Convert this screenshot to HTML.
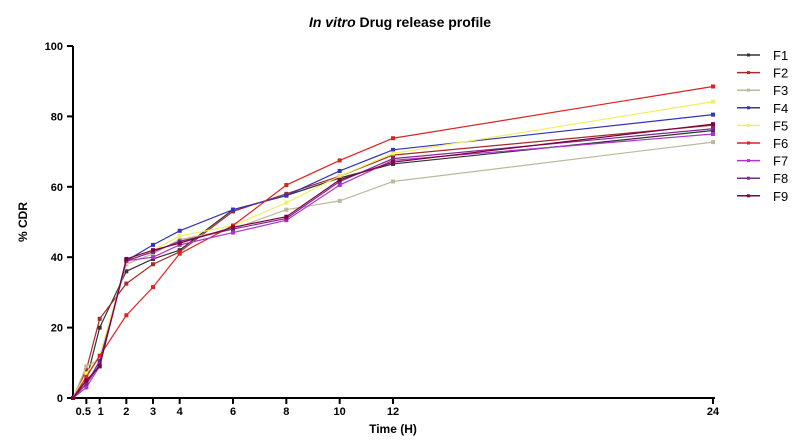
<!DOCTYPE html>
<html><head><meta charset="utf-8"><style>body{margin:0;background:#fff}svg{font-family:"Liberation Sans",Arial,sans-serif}</style></head>
<body>
<svg id="chart" width="801" height="441">
<text x="400" y="27" text-anchor="middle" font-size="14" font-weight="bold"><tspan font-style="italic">In vitro</tspan> Drug release profile</text>
<g id="axes"></g><g id="series"></g><g id="legend"></g>
</svg>
<script>
const times=[0,0.5,1,2,3,4,6,8,10,12,24];
const xTicks=[0.5,1,2,3,4,6,8,10,12,24];
const xTickLabels=["0.5","1","2","3","4","6","8","10","12","24"];
const yTicks=[0,20,40,60,80,100];
const names=["F1","F2","F3","F4","F5","F6","F7","F8","F9"];
const colors=["#333333","#a52a2a","#bdb89a","#3333bb","#f0f060","#dd2222","#b030d0","#7a2a8a","#800040"];
const F1=[0,5,20,36,39.5,42,53.5,57.5,62.5,66.5,76];
const F2=[0,8,22.5,32.5,38,41.5,53,58,63,69,77.5];
const F3=[0,9,11,38,41,45,48,53.5,56,61.5,72.7];
const F4=[0,4,10.5,39,43.5,47.5,53.5,57.5,64.5,70.5,80.5];
const F5=[0,7,12,38.5,42,46,49,55.5,63,69.5,84.2];
const F6=[0,6,12,23.5,31.5,41,49,60.5,67.5,73.8,88.5];
const F7=[0,3,9,39,40,43.5,47,50.5,60.5,67.5,75];
const F8=[0,4,9.5,39,41.5,44.5,48,51,61.5,68,76.5];
const F9=[0,5,9,39.5,42,44,48.5,51.5,62,67,77.8];
const seriesData=[F1,F2,F3,F4,F5,F6,F7,F8,F9];
const X=t=>73+t*(640/24), Y=v=>398-v*3.52;
const NS="http://www.w3.org/2000/svg";
function mk(p,tag,attrs){const e=document.createElementNS(NS,tag);for(const k in attrs)e.setAttribute(k,attrs[k]);p.appendChild(e);return e;}
const ax=document.getElementById('axes');
let a=mk(ax,'line',{x1:73,y1:Y(0),x2:X(24)+2,y2:Y(0),stroke:'#000','stroke-width':2});


a=mk(ax,'line',{x1:73,y1:Y(0)+1,x2:73,y2:Y(100),stroke:'#000','stroke-width':2});


yTicks.forEach(v=>{mk(ax,'line',{x1:67,y1:Y(v),x2:73,y2:Y(v),stroke:'#000','stroke-width':2});
const t=mk(ax,'text',{x:63,y:Y(v)+4,'text-anchor':'end','font-size':11,'font-weight':'bold'});t.textContent=v;

});
xTicks.forEach((v,i)=>{mk(ax,'line',{x1:X(v),y1:Y(0),x2:X(v),y2:Y(0)+6,stroke:'#000','stroke-width':2});
const t=mk(ax,'text',{x:X(v)+(v===0.5?-3:v===1?1:0),y:415,'text-anchor':'middle','font-size':11,'font-weight':'bold'});t.textContent=xTickLabels[i];

});
let t=mk(ax,'text',{x:393,y:433,'text-anchor':'middle','font-size':12,'font-weight':'bold'});t.textContent='Time (H)';


t=mk(ax,'text',{x:0,y:0,'text-anchor':'middle','font-size':12,'font-weight':'bold',transform:'translate(27,222) rotate(-90)'});t.textContent='% CDR';


const sg=document.getElementById('series'),lg=document.getElementById('legend');
seriesData.forEach((d,i)=>{
const g=mk(sg,'g',{});


mk(g,'polyline',{points:d.map((v,j)=>X(times[j])+','+Y(v)).join(' '),fill:'none',stroke:colors[i],'stroke-width':1.2});
d.forEach((v,j)=>{const m=mk(g,'rect',{x:X(times[j])-2,y:Y(v)-2,width:4,height:4,fill:colors[i]});

});
const ly=55+i*17.6;
const le=mk(lg,'g',{});


mk(le,'line',{x1:737,y1:ly,x2:760,y2:ly,stroke:colors[i],'stroke-width':1.5});
mk(le,'rect',{x:747,y:ly-1.5,width:3,height:3,fill:colors[i]});
const lt=mk(le,'text',{x:773,y:ly+5,'font-size':13});lt.textContent=names[i];
});
</script>
</body></html>
